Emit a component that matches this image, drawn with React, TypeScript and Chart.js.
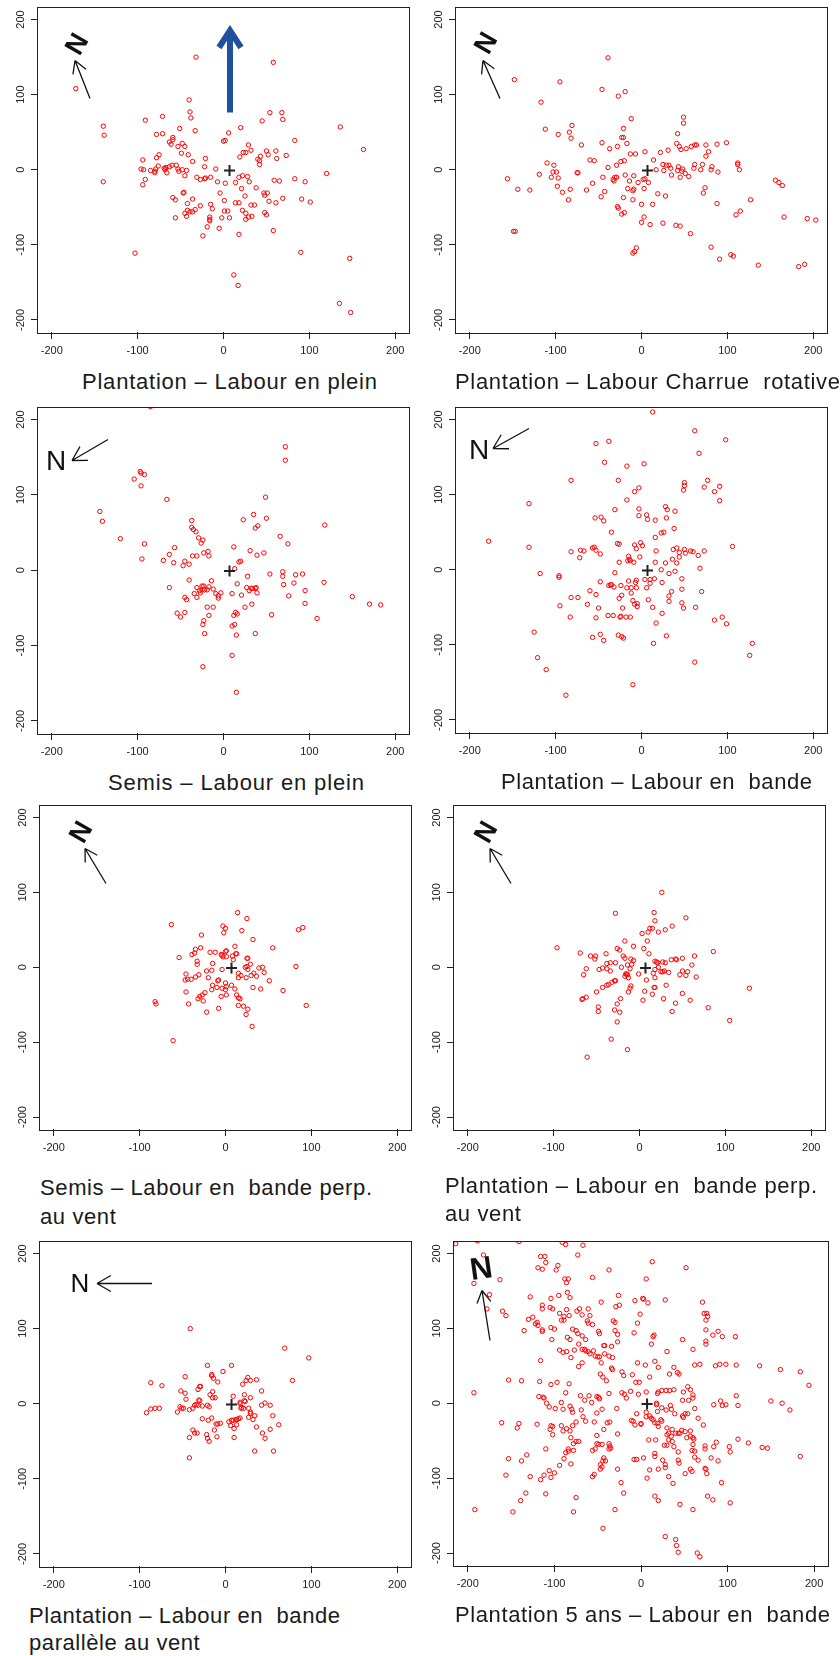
import React, { useEffect, useRef } from "react";
import { Chart, registerables } from "chart.js";

Chart.register(...registerables);

const FONT = '"Liberation Sans", Arial, Helvetica, sans-serif';

// ---------- data ----------
const xTickValues = [-200, -100, 0, 100, 200];
const yTickValues = [-200, -100, 0, 100, 200];
const axisMin = -216;
const axisMax = 216;
const centerPoint = [7, -1];

type Pt = [number, number];

const plantationLabourPlein: Pt[] = [
  [-172,108],[-32,150],[58,143],[-40,93],[-39,77],[-38,69],[-71,71],[-91,66],[-140,58],[-139,46],[-140,-16],[-78,47],[-71,48],[-51,55],[-33,52],[6,49],[0,38],[2,39],[20,56],[45,65],[54,76],[68,76],[69,67],[136,57],[163,27],[83,39],[120,-5],[83,-12],[95,-16],[91,-39],[101,-43],[90,-110],[147,-118],[135,-178],[148,-190],[12,-140],[17,-154],[-103,-111],[-24,-88],[18,-86],[58,-81],[-5,-78],[-19,-76],
  [-94,13],[-78,16],[-75,20],[-96,1],[-93,0],[-91,-13],[-94,-20],[-85,-1],[-80,-2],[-79,1],[-80,-4],[-76,5],[-69,2],[-68,0],[-66,-4],[-67,3],[-63,4],[-60,6],[-55,6],[-53,1],[-52,-2],[-48,0],[-43,-1],[-45,-8],[-49,22],[-41,20],[-36,11],[-53,31],[-48,35],[-45,31],[-63,37],[-59,40],[-61,34],[-59,43],
  [-59,-37],[-56,-40],[-56,-64],[-47,-31],[-46,-30],[-42,-45],[-36,-39],[-45,-58],[-43,-62],[-42,-54],[-39,-56],[-36,-56],[-33,-53],[-27,-48],[-31,-10],[-27,-13],[-22,-12],[-21,-11],[-22,4],[-21,15],[-15,-10],[-9,1],[-7,-16],[2,-18],[-15,-46],[-13,-52],[-16,-63],[-16,-66],[-16,-68],[-4,-31],[1,-41],[-2,-64],[1,-55],[5,-55],[7,-64],
  [18,-10],[22,-8],[28,-9],[30,-16],[14,-17],[21,-25],[25,-35],[14,-44],[18,-44],[22,-54],[26,-58],[26,-66],[29,-63],[32,-47],[36,-47],[33,-62],[38,-24],[19,17],[23,23],[26,23],[29,33],[32,26],[40,14],[43,18],[42,12],[42,7],[50,25],[52,20],[61,25],[62,15],[73,19],[47,-31],[48,-34],[51,-31],[53,-42],[48,-57],[50,-60],[61,-44],[59,-14],[65,-15],[69,-38],
];

const plantationCharrueRotative: Pt[] = [
  [-148,120],[-95,117],[-117,90],[-112,54],[-39,149],[-46,107],[-19,104],[-27,98],[-12,68],[-97,47],[-84,50],[-81,59],[-82,42],[-70,33],[-46,36],[-37,28],[-28,31],[-21,55],[-23,43],[-21,43],[-17,35],[-13,21],[-7,21],[4,24],[-60,13],[-55,12],[-39,3],[-29,6],[-24,11],[-20,12],[-110,9],[-102,6],[-103,-3],[-99,-3],[-105,-10],[-97,-11],[-119,-6],[-98,-22],[-92,-30],[-83,-26],[-85,-40],[-75,-4],[-74,-4],[-64,-27],[-57,-18],[-45,-10],[-43,-29],[-47,-36],[-156,-12],[-144,-26],[-130,-27],[-149,-82],[-147,-82],
  [-33,-13],[-31,-10],[-29,-10],[-32,-15],[-19,-7],[-14,-15],[-9,-8],[-4,-17],[-16,-25],[-9,-26],[-10,-28],[-21,-37],[-10,-40],[-28,-49],[-27,-51],[-20,-57],[-23,-59],[0,-46],[0,-70],[3,-63],[3,-25],[2,-13],[4,-12],[8,-17],[-10,-111],[-8,-109],[-6,-104],[10,-73],[13,-46],[14,13],[17,0],[19,-32],[25,-71],[28,-35],[22,23],[25,7],[26,-1],[29,6],[31,26],[32,6],[34,2],[35,-7],[40,-74],[45,-75],[42,48],[41,35],[44,31],[46,27],[43,4],[42,-1],[45,-10],[48,1],[47,-2],[51,-5],[55,-9],
  [49,70],[49,62],[52,28],[58,31],[62,33],[64,33],[62,7],[61,2],[69,0],[71,7],[72,-31],[74,-24],[75,18],[75,33],[78,24],[81,0],[82,4],[88,34],[89,-3],[88,-45],[99,36],[57,-85],[81,-103],[91,-119],[104,-113],[107,-115],[110,-60],[115,-55],[112,9],[112,7],[114,0],[127,-40],[136,-127],[156,-14],[160,-17],[164,-21],[166,-63],[183,-129],[190,-126],[193,-65],[203,-67],
];

const semisLabourPlein: Pt[] = [
  [-85,217],[72,164],[72,146],[-97,131],[-96,129],[-92,127],[-104,121],[-96,112],[-66,94],[-144,78],[-141,65],[-120,42],[-92,35],[-95,15],[49,97],[23,67],[35,74],[50,69],[37,56],[40,59],[118,60],[66,45],[75,35],[-37,66],[-37,57],[-35,54],[-32,51],[-29,43],[-24,40],[-26,36],[-57,30],[-63,21],[-58,10],[-70,13],[-47,6],[-45,12],[-40,8],[-36,19],[-31,19],[-23,23],[-18,25],[-17,19],[12,31],[31,26],[47,23],[39,20],[13,2],[18,11],[20,12],
  [-40,-13],[-63,-23],[-45,-36],[-43,-39],[-31,-23],[-28,-27],[-27,-30],[-34,-31],[-31,-36],[-25,-21],[-23,-21],[-25,-26],[-22,-26],[-19,-26],[-17,-22],[-14,-14],[-12,-25],[-9,-31],[-6,-34],[-6,-37],[-3,-30],[10,-31],[16,-18],[21,-33],[27,-23],[28,-8],[30,-27],[32,-24],[34,-24],[37,-24],[38,-23],[39,-30],[33,-45],[25,-49],[54,-5],[56,-59],[69,-2],[69,-8],[70,-19],[76,-34],[82,-17],[84,-6],[92,-5],[95,-27],[95,-44],[117,-16],[109,-64],[150,-35],[170,-45],[183,-46],
  [-54,-57],[-50,-62],[-45,-56],[-19,-49],[-12,-49],[-17,-60],[-23,-67],[-24,-72],[-22,-84],[10,-74],[13,-72],[12,-60],[14,-56],[16,-58],[15,-86],[37,-84],[-24,-128],[10,-113],[15,-162],
];

const plantationLabourBande: Pt[] = [
  [13,210],[62,185],[98,173],[67,155],[-53,168],[-38,171],[-43,143],[-17,138],[3,141],[-82,119],[-27,119],[-3,109],[-8,104],[-17,93],[-31,80],[-131,88],[-178,38],[-131,30],[-118,-5],[-96,-8],[-96,-10],[-95,-48],[-83,-63],[-82,24],[-72,16],[-71,26],[-67,25],[-57,29],[-55,30],[-53,26],[-48,21],[-54,69],[-47,70],[-44,65],[-35,50],[-28,35],[-26,34],[-26,10],[-31,-4],[-48,-16],[-38,-21],[-36,-20],[-35,-20],[-32,-23],[-24,-21],[-26,-38],[-23,-34],[-60,-28],[-53,-33],[-63,-46],[-50,-51],[-53,-64],[-82,-37],[-74,-37],[-39,-61],[-48,-86],[-57,-90],[-44,-94],[-27,-87],[-23,-89],[-21,-91],[-25,-63],[-24,-62],[-22,-51],[-18,-63],[-13,-63],
  [-17,-24],[-15,-15],[-12,-24],[-12,-31],[-15,18],[-14,14],[-16,12],[-13,12],[-9,10],[-8,33],[-6,28],[-1,36],[1,32],[-2,17],[-6,-14],[-7,-17],[-6,-24],[-10,-41],[-8,-46],[-5,-49],[-5,-45],[-10,-153],[-3,72],[-3,81],[6,73],[7,67],[16,66],[16,43],[17,25],[16,10],[23,0],[24,-17],[15,-12],[10,-13],[10,-18],[4,-13],[6,-24],[8,-40],[13,-50],[17,-71],[14,-98],[24,-58],[29,-88],[28,9],[32,-5],[39,-2],[36,14],[37,27],[41,29],[44,17],[44,23],[41,9],[35,-29],[32,-35],[32,-42],[47,-26],[47,-12],[47,-44],[49,-51],
  [23,49],[26,50],[28,84],[30,80],[29,69],[38,55],[39,78],[50,116],[50,112],[49,106],[50,27],[51,22],[57,25],[60,24],[66,19],[68,2],[70,-29],[73,25],[73,110],[77,119],[85,104],[91,111],[91,92],[63,-50],[62,-123],[85,-67],[94,-63],[99,-72],[106,31],[126,-114],[129,-98],[-125,-83],[-121,-117],[-111,-133],[-88,-167],[-33,-61],
];

const semisBandePerp: Pt[] = [
  [-63,57],[14,73],[25,65],[-28,43],[-3,55],[0,52],[-2,46],[19,49],[85,50],[90,53],[32,37],[55,26],[11,28],[-35,24],[-29,26],[-39,17],[-36,19],[-54,13],[-33,8],[-33,4],[-18,20],[-12,20],[-5,17],[-4,16],[-3,14],[1,22],[0,21],[1,14],[8,15],[9,10],[12,18],[13,18],[25,12],[26,12],[-15,5],[-22,-5],[-16,-4],[-4,-3],[-46,-9],[-31,-10],[-35,-13],[-47,-17],[-44,-16],[-40,-16],[-20,-14],[-8,-17],[-9,-18],[-15,-24],[-16,-30],[-10,-27],[-4,-28],[0,-21],[1,-26],[0,-30],[1,-37],[7,-24],[11,-29],[13,-37],[15,-41],[17,-42],[15,-51],[21,-52],[26,-56],[24,-63],[31,-79],
  [-5,-39],[-8,-55],[-22,-60],[-24,-34],[-27,-37],[-30,-39],[-32,-42],[-26,-45],[-46,-33],[-43,-49],[-82,-46],[-81,-49],[-61,-98],[15,-8],[18,-11],[15,-14],[24,-14],[23,0],[26,-3],[25,1],[29,4],[30,-11],[33,-8],[36,-12],[39,-1],[43,0],[45,-7],[51,-18],[32,-27],[41,-29],[67,-31],[82,1],[94,-51],
];

const plantationBandePerp: Pt[] = [
  [26,100],[-28,72],[17,73],[54,66],[18,62],[38,55],[30,50],[12,52],[15,52],[10,47],[22,47],[3,45],[9,35],[-17,35],[-7,28],[5,25],[-26,25],[-23,23],[11,18],[-96,26],[-69,19],[-57,15],[-51,15],[-52,11],[-39,18],[-19,15],[-17,12],[-10,11],[-7,9],[-9,4],[-14,3],[-21,0],[-38,5],[-34,6],[-28,6],[-43,-1],[-47,-3],[-38,-2],[-34,-5],[-62,-2],[-65,-10],[-11,-2],[-1,-9],[-15,-9],[-14,-10],[-17,-12],[-13,-14],[-16,-9],[-10,-25],[-11,-28],[-13,-33],[-28,-18],[-29,-18],[-32,-20],[-36,-23],[-38,-24],[-43,-27],[-50,-33],[-62,-40],[-66,-42],[-67,-43],[-22,-42],[-26,-49],[-48,-53],[-48,-59],[-29,-57],[-23,-60],[-26,-73],[-33,-96],[-14,-110],[-61,-120],
  [4,-44],[6,-32],[8,-17],[15,-36],[17,-27],[18,-27],[16,-8],[18,-3],[18,-14],[18,8],[20,7],[21,6],[22,0],[25,-6],[27,7],[30,6],[27,-6],[29,-5],[34,-7],[28,-42],[31,-24],[37,10],[42,11],[43,10],[50,12],[47,-10],[50,-5],[54,-11],[56,-6],[61,3],[64,15],[66,-13],[50,-35],[59,-44],[42,-48],[38,-59],[86,21],[80,-54],[105,-71],[128,-28],
];

const plantationBandeParallele: Pt[] = [
  [-41,100],[69,74],[97,61],[78,31],[-87,28],[-74,24],[-47,36],[-21,51],[7,51],[-3,43],[-16,39],[-16,37],[-14,34],[-9,29],[-30,23],[-29,23],[-32,19],[-52,17],[-47,14],[-46,6],[-31,5],[-30,4],[-18,12],[-15,16],[-15,8],[-12,8],[9,10],[20,26],[26,35],[24,31],[29,31],[36,32],[42,17],[22,12],[29,8],[23,3],[-34,-1],[-32,-2],[-36,-2],[-27,-3],[-21,-2],[-19,-4],[-53,-4],[-51,-6],[-49,-6],[-56,-11],[-42,-8],[-38,-6],[-92,-12],[-87,-7],[-82,-6],[-77,-6],
  [-27,-20],[-20,-22],[-16,-19],[-11,-27],[-9,-27],[-6,-26],[-13,-35],[-10,-44],[-22,-41],[-21,-46],[-19,-50],[-33,-39],[-38,-35],[-36,-39],[-42,-45],[-42,-72],[4,-24],[7,-22],[9,-22],[12,-21],[13,-21],[15,-20],[17,-19],[6,-29],[10,-33],[13,-28],[10,-45],[17,2],[17,0],[19,-5],[18,-6],[21,-6],[22,4],[27,-6],[29,-11],[29,-13],[27,-18],[32,-21],[34,-16],[36,-31],[42,-2],[46,1],[52,-2],[55,-16],[43,-39],[52,-34],[46,-46],[62,-28],[34,-63],[56,-63],
];

const plantation5ansBande: Pt[] = [
  [-214,213],[-189,217],[-141,216],[-91,215],[-87,212],[-67,211],[-73,198],[-182,198],[-116,196],[-111,196],[-110,188],[13,189],[52,181],[-96,184],[-98,178],[-119,181],[-114,179],[-37,178],[-193,160],[-163,165],[-175,145],[-178,126],[-56,168],[-88,166],[-84,166],[-86,161],[6,166],[-128,142],[-95,144],[-85,148],[-82,141],[-104,140],[-26,144],[-25,131],[-29,129],[-46,135],[-7,137],[2,140],[3,139],[8,134],[28,138],[71,135],[-114,131],[-114,126],[-102,126],[-105,128],[-160,123],[-156,117],[-86,125],[-71,126],[-74,123],[-61,126],[-68,118],[-59,117],[-94,120],[-89,116],[-83,117],[-92,111],[-89,111],[-1,119],[73,120],[76,120],[77,116],[75,111],
  [-125,115],[-130,112],[-135,97],[-122,106],[-120,108],[-119,104],[-114,98],[-114,96],[-104,101],[-100,99],[-103,85],[-62,110],[-61,107],[-56,105],[-79,99],[-75,97],[-73,93],[-68,90],[-64,85],[-85,88],[-82,85],[-32,110],[-30,108],[-30,97],[-27,92],[-27,82],[-34,76],[-49,96],[-48,93],[-4,107],[-8,94],[15,91],[14,89],[12,79],[75,98],[83,91],[89,96],[94,89],[109,89],[48,85],[75,83],[75,79],[60,72],[30,69],
  [-94,71],[-90,68],[-86,69],[-77,71],[-72,79],[-68,72],[-65,72],[-64,70],[-61,69],[-59,66],[-55,70],[-53,63],[-50,62],[-48,62],[-81,61],[-43,77],[-42,77],[-42,66],[-37,63],[-33,61],[-46,54],[-68,54],[-72,49],[-116,57],[-4,54],[5,51],[20,48],[16,56],[38,48],[62,51],[68,52],[86,50],[91,52],[98,52],[110,51],[137,50],[161,45],[184,42],[194,24],
  [-47,39],[-44,35],[-40,30],[-34,47],[-33,45],[-22,42],[-20,37],[-10,38],[10,35],[33,39],[42,41],[44,39],[-6,28],[-2,28],[-153,31],[-138,30],[-117,29],[-104,25],[-97,28],[-83,26],[-87,14],[-193,14],[-118,9],[-113,8],[-112,7],[-109,0],[-106,-5],[-99,-7],[-92,1],[-90,-8],[-82,-4],[-80,-8],[-79,-12],[-70,10],[-65,4],[-69,-9],[-67,-18],[-64,-24],[-60,10],[-57,1],[-51,9],[-49,8],[-48,6],[-51,-13],[-45,-8],[-54,-25],[-37,13],[-28,-7],[-22,14],[-19,12],[-17,7],[-12,16],[-3,12],[6,15],
  [19,13],[20,15],[24,17],[29,17],[33,17],[38,18],[54,22],[57,18],[60,11],[60,7],[49,15],[48,4],[55,4],[62,-7],[18,-2],[18,0],[19,-11],[24,-6],[29,-9],[34,-3],[35,-8],[39,-14],[48,-17],[49,-19],[51,-14],[54,-14],[6,-12],[10,-17],[12,-20],[14,-22],[16,-26],[19,-27],[20,-31],[23,-22],[24,-24],[-5,-14],[-11,-23],[-7,-29],[0,-27],[6,-18],[66,-20],[72,-29],[84,-2],[92,3],[94,-3],[98,-2],[110,10],[112,-3],[150,3],[163,0],[172,-9],
  [-161,-26],[-141,-27],[-143,-33],[-120,-28],[-104,-30],[-102,-31],[-105,-35],[-102,-42],[-92,-30],[-90,-37],[-86,-34],[-82,-37],[-79,-30],[-75,-25],[-81,-46],[-78,-54],[-75,-51],[-72,-51],[-84,-61],[-84,-64],[-87,-66],[-89,-74],[-78,-63],[-110,-61],[-94,-83],[-81,-81],[-51,-43],[-51,-54],[-49,-55],[-45,-55],[-56,-63],[-53,-61],[-43,-73],[-41,-77],[-44,-77],[-47,-82],[-45,-85],[-47,-88],[-37,-54],[-36,-57],[-37,-61],[-35,-60],[-43,-35],[-39,-26],[-36,-25],[-27,-41],[-9,-24],[0,-28],
  [30,-33],[30,-42],[32,-40],[36,-35],[40,-40],[43,-40],[47,-36],[45,-40],[51,-38],[57,-37],[57,-44],[60,-46],[61,-48],[53,-46],[35,-44],[32,-49],[36,-51],[30,-56],[38,-58],[43,-65],[60,-55],[62,-64],[59,-63],[62,-72],[66,-76],[9,-49],[17,-49],[27,-56],[16,-67],[16,-71],[3,-73],[-8,-75],[-5,-75],[25,-76],[28,-82],[28,-86],[43,-76],[44,-80],[74,-57],[74,-61],[87,-52],[84,-58],[81,-73],[89,-77],[102,-58],[103,-65],[112,-48],[124,-53],[140,-59],[146,-60],[184,-71],
  [-153,-74],[-138,-77],[-132,-69],[-156,-96],[-128,-98],[-116,-102],[-112,-96],[-106,-90],[-104,-99],[-100,-93],[-56,-98],[-54,-95],[-27,-88],[-23,-106],[-20,-120],[7,-100],[10,-89],[20,-88],[32,-98],[37,-107],[51,-94],[57,-88],[59,-91],[74,-87],[75,-88],[76,-94],[77,-124],[83,-129],[93,-106],[103,-133],[16,-124],[20,-130],[45,-135],[60,-142],[-133,-120],[-110,-121],[-139,-130],[-148,-145],[-192,-142],[-75,-126],[-78,-145],[-30,-142],[-44,-167],[28,-178],[40,-182],[41,-190],[43,-199],[65,-200],[68,-205],
];

const panelTitles: string[][] = [
  ["Plantation – Labour en plein"],
  ["Plantation – Labour Charrue  rotative"],
  ["Semis – Labour en plein"],
  ["Plantation – Labour en  bande"],
  ["Semis – Labour en  bande perp.", "au vent"],
  ["Plantation – Labour en  bande perp.", "au vent"],
  ["Plantation – Labour en  bande", "parallèle au vent"],
  ["Plantation 5 ans – Labour en  bande"],
];

// ---------- layout (positions & styles) ----------
type Box = { l: number; t: number; r: number; b: number };
type NMark = { x: number; y: number; rot: number; size: number; bold: boolean };
type Arrow = { x0: number; y0: number; x1: number; y1: number; head: number };
type Deco = { n: NMark; arrow: Arrow; blue?: { x: number; y0: number; y1: number } };
type TitlePos = { left: number; baseline: number; width: number; gap: number };

const PAD_L = 38;
const PAD_T = 6;
const PAD_R = 14;
const PAD_B = 32;

const panelLayout: { box: Box; deco: Deco; title: TitlePos }[] = [
  { box: { l: 38, t: 6, r: 409, b: 332 },
    deco: { n: { x: 38, y: 36, rot: -60, size: 27, bold: true }, arrow: { x0: 52, y0: 91, x1: 37, y1: 53, head: 14 }, blue: { x: 192, y0: 105, y1: 19 } },
    title: { left: 82, baseline: 390, width: 295, gap: 28 } },
  { box: { l: 456, t: 6, r: 827, b: 332 },
    deco: { n: { x: 29, y: 35, rot: -60, size: 27, bold: true }, arrow: { x0: 44, y0: 91, x1: 27, y1: 53, head: 14 } },
    title: { left: 455, baseline: 390, width: 385, gap: 28 } },
  { box: { l: 38, t: 406, r: 409, b: 733 },
    deco: { n: { x: 18, y: 52, rot: 0, size: 28, bold: false }, arrow: { x0: 70, y0: 32, x1: 34, y1: 53, head: 16 } },
    title: { left: 108, baseline: 791, width: 256, gap: 28 } },
  { box: { l: 456, t: 406, r: 827, b: 732 },
    deco: { n: { x: 23, y: 41, rot: 0, size: 28, bold: false }, arrow: { x0: 73, y0: 21, x1: 37, y1: 41, head: 16 } },
    title: { left: 501, baseline: 790, width: 311, gap: 28 } },
  { box: { l: 40, t: 804, r: 411, b: 1129 },
    deco: { n: { x: 40, y: 26, rot: -60, size: 27, bold: true }, arrow: { x0: 66, y0: 78, x1: 45, y1: 43, head: 14 } },
    title: { left: 40, baseline: 1196, width: 332, gap: 29 } },
  { box: { l: 454, t: 804, r: 825, b: 1129 },
    deco: { n: { x: 31, y: 26, rot: -60, size: 27, bold: true }, arrow: { x0: 57, y0: 78, x1: 36, y1: 43, head: 14 } },
    title: { left: 445, baseline: 1194, width: 372, gap: 28 } },
  { box: { l: 40, t: 1240, r: 411, b: 1566 },
    deco: { n: { x: 40, y: 41, rot: 0, size: 26, bold: false }, arrow: { x0: 112, y0: 42, x1: 57, y1: 42, head: 16 } },
    title: { left: 29, baseline: 1624, width: 311, gap: 27 } },
  { box: { l: 454, t: 1240, r: 828, b: 1565 },
    deco: { n: { x: 27, y: 26, rot: -8, size: 31, bold: true }, arrow: { x0: 36, y0: 99, x1: 28, y1: 49, head: 14 } },
    title: { left: 455, baseline: 1623, width: 375, gap: 28 } },
];

const panelData: Pt[][] = [
  plantationLabourPlein,
  plantationCharrueRotative,
  semisLabourPlein,
  plantationLabourBande,
  semisBandePerp,
  plantationBandePerp,
  plantationBandeParallele,
  plantation5ansBande,
];

// ---------- drawing helpers ----------
function makeDecoPlugin(deco: Deco) {
  return {
    id: "panelDeco",
    afterDraw(chart: any) {
      const { ctx, chartArea: a, scales } = chart;
      ctx.save();
      // frame
      ctx.strokeStyle = "#222";
      ctx.lineWidth = 1;
      ctx.strokeRect(Math.round(a.left) - 0.5, Math.round(a.top) - 0.5, Math.round(a.right - a.left) + 1, Math.round(a.bottom - a.top) + 1);
      // rotated y tick labels
      ctx.fillStyle = "#222";
      ctx.font = `11px ${FONT}`;
      ctx.textAlign = "center";
      ctx.textBaseline = "middle";
      for (const v of yTickValues) {
        const py = scales.y.getPixelForValue(v);
        ctx.save();
        ctx.translate(a.left - 17, py);
        ctx.rotate(-Math.PI / 2);
        ctx.fillText(String(v), 0, 0);
        ctx.restore();
      }
      // N letter
      const n = deco.n;
      ctx.save();
      ctx.translate(a.left + n.x, a.top + n.y);
      ctx.rotate((n.rot * Math.PI) / 180);
      ctx.font = `${n.bold ? "bold " : ""}${n.size}px ${FONT}`;
      ctx.textAlign = "center";
      ctx.textBaseline = "alphabetic";
      ctx.fillStyle = "#111";
      ctx.fillText("N", 0, n.size * 0.358);
      ctx.restore();
      // north arrow
      const ar = deco.arrow;
      const x0 = a.left + ar.x0, y0 = a.top + ar.y0, x1 = a.left + ar.x1, y1 = a.top + ar.y1;
      ctx.strokeStyle = "#111";
      ctx.lineWidth = 1.3;
      ctx.beginPath();
      ctx.moveTo(x0, y0);
      ctx.lineTo(x1, y1);
      const ang = Math.atan2(y0 - y1, x0 - x1);
      for (const s of [-1, 1]) {
        const t = ang + (s * Math.PI) / 6;
        ctx.moveTo(x1, y1);
        ctx.lineTo(x1 + ar.head * Math.cos(t), y1 + ar.head * Math.sin(t));
      }
      ctx.stroke();
      // blue arrow
      if (deco.blue) {
        const b = deco.blue;
        const bx = a.left + b.x;
        ctx.strokeStyle = "#2150A0";
        ctx.lineWidth = 6;
        ctx.lineCap = "butt";
        ctx.lineJoin = "miter";
        ctx.beginPath();
        ctx.moveTo(bx, a.top + b.y0);
        ctx.lineTo(bx, a.top + b.y1 + 4);
        ctx.stroke();
        ctx.beginPath();
        ctx.moveTo(bx - 11, a.top + b.y1 + 21);
        ctx.lineTo(bx, a.top + b.y1 + 4);
        ctx.lineTo(bx + 11, a.top + b.y1 + 21);
        ctx.stroke();
      }
      ctx.restore();
    },
  };
}

function ScatterPanel({ pts, box, deco }: { pts: Pt[]; box: Box; deco: Deco }) {
  const ref = useRef<HTMLCanvasElement>(null);
  const W = box.r - box.l + PAD_L + PAD_R;
  const H = box.b - box.t + PAD_T + PAD_B;
  useEffect(() => {
    if (!ref.current) return;
    const axisCommon = {
      type: "linear" as const,
      min: axisMin,
      max: axisMax,
      grid: { drawOnChartArea: false, drawTicks: true, tickLength: 7, color: "#222", lineWidth: 1 },
      border: { display: false },
    };
    const chart = new Chart(ref.current, {
      type: "scatter",
      data: {
        datasets: [
          {
            label: "centre",
            data: [{ x: centerPoint[0], y: centerPoint[1] }],
            pointStyle: "cross",
            pointRadius: 5.5,
            pointBorderWidth: 2,
            pointBorderColor: "#222",
            pointBackgroundColor: "#222",
          },
          {
            label: "arbres",
            data: pts.map(([x, y]) => ({ x, y })),
            pointStyle: "circle",
            pointRadius: 2.2,
            pointBorderWidth: 1,
            pointBorderColor: "#ff0000",
            pointBackgroundColor: "rgba(0,0,0,0)",
          },
        ],
      },
      options: {
        responsive: false,
        animation: false,
        events: [],
        layout: { padding: { left: 0, top: PAD_T, right: PAD_R, bottom: 0 } },
        plugins: { legend: { display: false }, tooltip: { enabled: false } },
        scales: {
          x: {
            ...axisCommon,
            afterBuildTicks: (s: any) => { s.ticks = xTickValues.map((v) => ({ value: v })); },
            afterFit: (s: any) => { s.height = PAD_B; },
            ticks: { font: { size: 11, family: FONT }, color: "#222", padding: 5, maxRotation: 0, minRotation: 0, autoSkip: false },
          },
          y: {
            ...axisCommon,
            afterBuildTicks: (s: any) => { s.ticks = yTickValues.map((v) => ({ value: v })); },
            afterFit: (s: any) => { s.width = PAD_L; },
            ticks: { display: false },
          },
        },
      } as any,
      plugins: [makeDecoPlugin(deco)],
    });
    return () => chart.destroy();
  }, []);
  return (
    <canvas
      ref={ref}
      width={W}
      height={H}
      style={{ position: "absolute", left: box.l - PAD_L, top: box.t - PAD_T, width: W, height: H }}
    />
  );
}

const measureCtx = typeof document !== "undefined" ? document.createElement("canvas").getContext("2d") : null;

function PanelTitle({ lines, pos }: { lines: string[]; pos: TitlePos }) {
  let spacing = 0;
  if (measureCtx) {
    measureCtx.font = `22px ${FONT}`;
    const natural = measureCtx.measureText(lines[0]).width;
    spacing = (pos.width - natural) / Math.max(1, lines[0].length - 1);
  }
  return (
    <>
      {lines.map((ln, i) => (
        <div
          key={i}
          style={{
            position: "absolute",
            left: pos.left,
            top: pos.baseline + i * pos.gap - 18.6,
            fontFamily: FONT,
            fontSize: 22,
            lineHeight: "22px",
            letterSpacing: `${spacing}px`,
            whiteSpace: "pre",
            color: "#1a1a1a",
          }}
        >
          {ln}
        </div>
      ))}
    </>
  );
}

export default function App() {
  return (
    <div
      style={{
        position: "absolute",
        left: 0,
        top: 0,
        width: 840,
        height: 1656,
        background: "#ffffff",
        overflow: "hidden",
      }}
    >
      {panelLayout.map((p, i) => (
        <React.Fragment key={i}>
          <ScatterPanel pts={panelData[i]} box={p.box} deco={p.deco} />
          <PanelTitle lines={panelTitles[i]} pos={p.title} />
        </React.Fragment>
      ))}
    </div>
  );
}
